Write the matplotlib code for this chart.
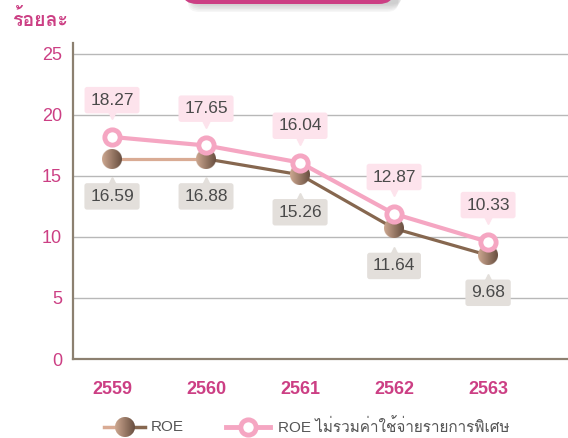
import matplotlib
matplotlib.use("Agg")
from matplotlib import pyplot as plt
from matplotlib import font_manager, transforms
from matplotlib.ft2font import FT2Font
from matplotlib.patches import FancyBboxPatch
import numpy as np

years = ["2559", "2560", "2561", "2562", "2563"]
# point heights as drawn in the picture, and the labels printed next to them
roe = [16.4, 16.4, 15.1, 10.7, 8.5]
roe_text = ["16.59", "16.88", "15.26", "11.64", "9.68"]
roe_ex = [18.2, 17.5, 16.1, 11.9, 9.6]
roe_ex_text = ["18.27", "17.65", "16.04", "12.87", "10.33"]
y_ticks = [0, 5, 10, 15, 20, 25]

#Find some font that has Thai letters
thai_font = None
for f in font_manager.fontManager.ttflist:
    try:
        if FT2Font(f.fname).get_char_index(0x0E23):
            thai_font = f.name
            break
    except Exception:
        pass
families = ["Liberation Sans"]
if thai_font:
    families.append(thai_font)
families.append("DejaVu Sans")
plt.rcParams["font.family"] = families

pink_dark = "#cc3f84"
pink_line = "#f5a6c2"
brown_dark = "#86674f"
brown_light = "#d9ab94"
txt_gray = "#4a4a4a"


def sphere(size):
    #round brown ball, light on the left, dark on the right
    yy, xx = np.mgrid[0:size, 0:size] + 0.5
    c = size / 2
    dist = np.sqrt((xx - c) ** 2 + (yy - c) ** 2)
    alpha = np.clip(c - dist + 0.5, 0, 1)
    t = (xx / size)[..., None]
    left = np.array([205, 168, 145]) / 255
    right = np.array([104, 78, 63]) / 255
    rgb = left * (1 - t) + right * t
    return np.dstack([rgb, alpha])


fig = plt.figure(dpi=100, figsize=(5.68, 4.38))
W, H = 568, 438
ax = fig.add_axes([73 / W, (H - 359) / H, 1 - 73 / W, (359 - 43) / H])
x = list(range(len(years)))
xlo, xhi, ylo, yhi = -0.415, 4.85, 0, 25.9

#Brown line: first piece light, the rest dark
ax.plot(x[:2], roe[:2], color=brown_light, lw=2.3, zorder=3, solid_capstyle="butt")
ax.plot(x[1:], roe[1:], color=brown_dark, lw=2.3, zorder=3)
ball = sphere(40)
r = 10  #radius in pixels
dx = (xhi - xlo) / (W - 73)
dy = (yhi - ylo) / (359 - 43)
for i in x:
    ax.imshow(ball, extent=(i - r * dx, i + r * dx, roe[i] - r * dy, roe[i] + r * dy),
              aspect="auto", zorder=4, interpolation="antialiased")

#Pink line with rings
ax.plot(x, roe_ex, color=pink_line, lw=3, zorder=5, marker="o", ms=11,
        markerfacecolor="white", markeredgecolor=pink_line, markeredgewidth=3.5)

#Value boxes
for i in x:
    ax.annotate(roe_ex_text[i], (i, roe_ex[i]), xytext=(0, 26.5), textcoords="offset points",
                ha="center", va="center", fontsize=12.5, color=txt_gray, zorder=6,
                bbox=dict(boxstyle="round,pad=0.33,rounding_size=0.15", fc="#fde3ec", ec="none"))
    ax.annotate(roe_text[i], (i, roe[i]), xytext=(0, -27), textcoords="offset points",
                ha="center", va="center", fontsize=12.5, color=txt_gray, zorder=6,
                bbox=dict(boxstyle="round,pad=0.33,rounding_size=0.15", fc="#e3dfdb", ec="none"))
up = transforms.offset_copy(ax.transData, fig, x=0, y=15.5, units="points")
down = transforms.offset_copy(ax.transData, fig, x=0, y=-16, units="points")
ax.plot(x, roe_ex, ls="none", marker="v", ms=6, color="#fde3ec", transform=up, zorder=6)
ax.plot(x, roe, ls="none", marker="^", ms=6, color="#e3dfdb", transform=down, zorder=6)

#Format axes
ax.set_xlim(xlo, xhi)
ax.set_ylim(ylo, yhi)
ax.set_yticks(y_ticks)
ax.set_xticks(x)
ax.set_xticklabels(years, fontweight="bold")
ax.tick_params(axis="both", length=0, labelsize=13, labelcolor=pink_dark)
ax.tick_params(axis="x", pad=16)
ax.tick_params(axis="y", pad=8)
ax.grid(axis="y", color="#b8b8b8", lw=1)
ax.set_axisbelow(True)
for side in ["top", "right"]:
    ax.spines[side].set_visible(False)
for side in ["left", "bottom"]:
    ax.spines[side].set_color("#8c8070")
    ax.spines[side].set_linewidth(1.6)

fig.text(12 / W, 1 - 26 / H, "ร้อยละ", color=pink_dark, fontsize=14, fontweight="bold",
         ha="left", va="baseline")

#Pink header tab at the top, cut off, with a soft shadow
for k in range(6):
    fig.patches.append(FancyBboxPatch((188 / W + k * 0.0015, (H - 12 + k * 1.5) / H),
                                      210 / W, 40 / H, boxstyle="round,pad=0,rounding_size=0.02",
                                      transform=fig.transFigure, fc="#808080", ec="none",
                                      alpha=0.07, zorder=1))
fig.patches.append(FancyBboxPatch((183 / W, (H - 4) / H), 210 / W, 40 / H,
                                  boxstyle="round,pad=0,rounding_size=0.025",
                                  transform=fig.transFigure, fc=pink_dark, ec="none", zorder=2))

#Legend drawn by hand
ly = 1 - 427 / H
fig.add_artist(plt.Line2D([104 / W, 125 / W], [ly, ly], color=brown_light, lw=2.5))
fig.add_artist(plt.Line2D([125 / W, 145 / W], [ly, ly], color=brown_dark, lw=2.5))
fig.figimage(sphere(20), xo=125 - 10, yo=H - 427 - 10, zorder=3)
fig.text(151 / W, ly, "ROE", color="#555555", fontsize=11, va="center", ha="left")
fig.add_artist(plt.Line2D([226 / W, 270 / W], [ly, ly], color=pink_line, lw=3.5, marker="none"))
fig.add_artist(plt.Line2D([248 / W], [ly], marker="o", ms=11, markerfacecolor="white",
                          markeredgecolor=pink_line, markeredgewidth=3.5))
fig.text(278 / W, ly, "ROE ไม่รวมค่าใช้จ่ายรายการพิเศษ", color="#555555", fontsize=11,
         va="center", ha="left")

plt.savefig("out.png", dpi=100)
